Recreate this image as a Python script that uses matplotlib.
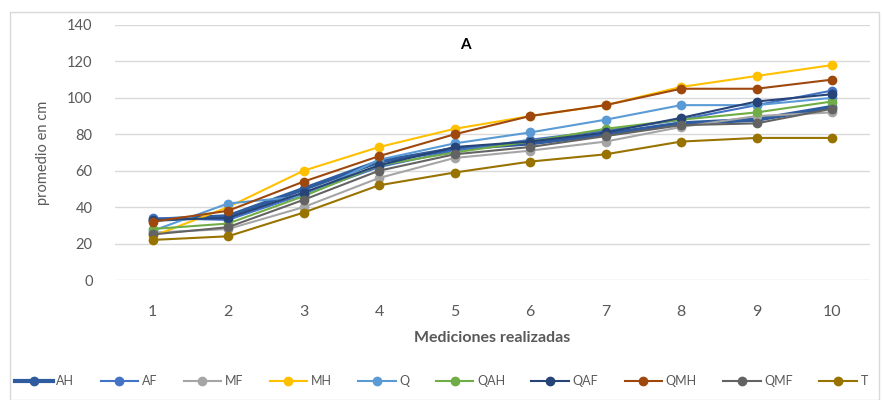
import matplotlib
matplotlib.use('Agg')
import matplotlib.pyplot as plt
from matplotlib.patches import Rectangle

plt.rcParams['font.family'] = ['Lato', 'DejaVu Sans']

# mediciones 1..10
mediciones = [1, 2, 3, 4, 5, 6, 7, 8, 9, 10]

AH  = [33, 35, 50, 65, 72, 75, 80, 86, 88, 95]
AF  = [34, 33, 47, 62, 71, 77, 82, 88, 96, 104]
MF  = [26, 28, 40, 56, 67, 71, 76, 84, 90, 92]
MH  = [24, 40, 60, 73, 83, 90, 96, 106, 112, 118]
Q   = [27, 42, 46, 66, 75, 81, 88, 96, 96, 100]
QAH = [28, 31, 46, 63, 70, 76, 83, 88, 92, 98]
QAF = [33, 34, 48, 63, 73, 76, 81, 89, 98, 102]
QMH = [32, 38, 54, 68, 80, 90, 96, 105, 105, 110]
QMF = [25, 29, 44, 60, 69, 73, 79, 85, 86, 94]
T   = [22, 24, 37, 52, 59, 65, 69, 76, 78, 78]

series = [('AH', AH), ('AF', AF), ('MF', MF), ('MH', MH), ('Q', Q),
          ('QAH', QAH), ('QAF', QAF), ('QMH', QMH), ('QMF', QMF), ('T', T)]
colores = ['#2E5C9E', '#4472C4', '#A5A5A5', '#FFC000', '#5B9BD5',
           '#70AD47', '#264478', '#9E480E', '#636363', '#997300']

fig = plt.figure(figsize=(8.83, 4.0), dpi=100)
ax = fig.add_axes([0.130, 0.30, 0.855, 0.6375])

for (nombre, vals), c in zip(series, colores):
    lw = 3 if nombre == 'AH' else 1.5
    ax.plot(mediciones, vals, color=c, lw=lw, marker='o', ms=6, label=nombre)

ax.set_ylim(0, 140)
ax.set_yticks(range(0, 141, 20))
ax.set_xlim(0.5, 10.5)
ax.set_xticks(mediciones)
ax.grid(axis='y', color='#D9D9D9', lw=1)
ax.set_axisbelow(True)
for s in ax.spines.values():
    s.set_visible(False)
ax.tick_params(length=0, colors='#595959', labelsize=10.5)
ax.tick_params(axis='x', labelsize=11.5, pad=18)
ax.tick_params(axis='y', pad=16)

ax.set_xlabel('Mediciones realizadas', color='#595959', fontsize=11.5,
              fontweight='bold', labelpad=9)
ax.set_ylabel('promedio en cm', color='#595959', fontsize=10.5, labelpad=12)
ax.text(0.464, 0.92, 'A', transform=ax.transAxes, ha='center', va='center',
        fontsize=11, fontweight='bold', color='#000000')

fig.legend(loc='center', bbox_to_anchor=(0.5, 0.047), ncol=10, frameon=False,
           fontsize=9, handlelength=3.0, columnspacing=2.1, handletextpad=0.3,
           labelcolor='#595959')

fig.patches.append(Rectangle((0.011, 0.0), 0.985, 0.97, transform=fig.transFigure,
                             fill=False, edgecolor='#D9D9D9', lw=1))

fig.savefig('out.png', dpi=100)
